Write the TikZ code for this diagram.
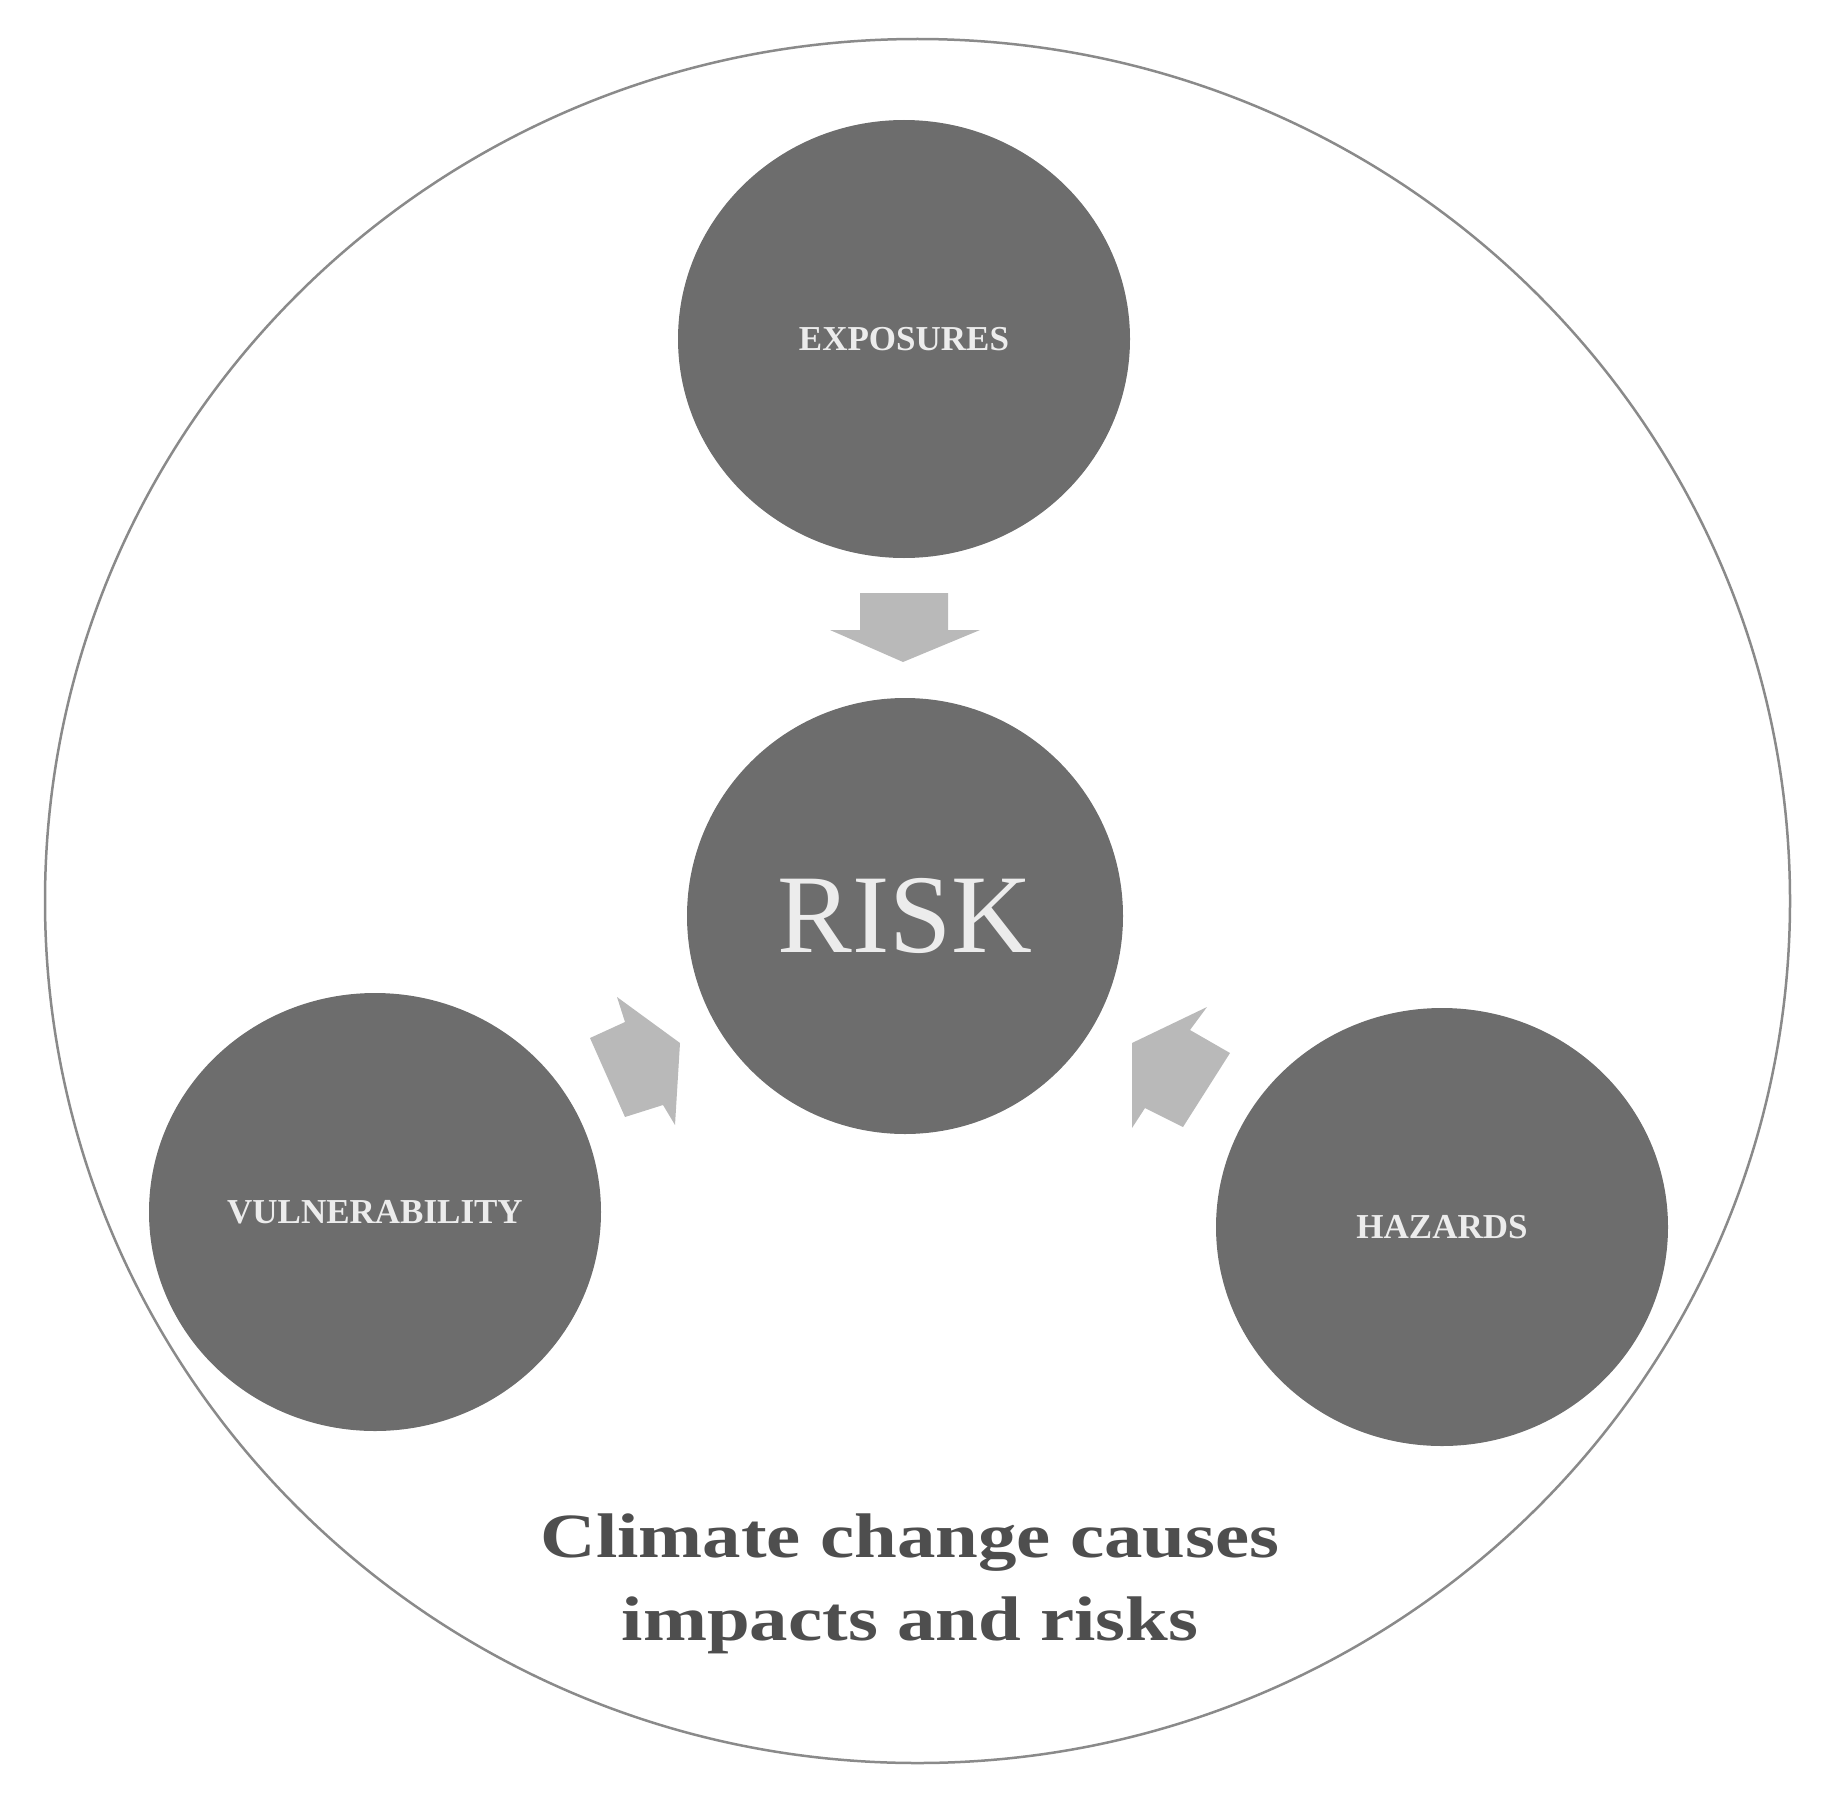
\documentclass[tikz,border=0pt]{standalone}
\usepackage{fontspec}
\setmainfont{Liberation Serif}
\newfontfamily\climatefont[FakeStretch=1.22]{Liberation Serif}
\usetikzlibrary{shapes.geometric}
\definecolor{bubblegray}{HTML}{6D6D6D}
\definecolor{arrowgray}{HTML}{B9B9B9}
\definecolor{framegray}{HTML}{8A8A8A}
\definecolor{labelwhite}{HTML}{ECECEC}
\definecolor{captiongray}{HTML}{4E4E4E}

\begin{document}
\begin{tikzpicture}[x=1pt, y=-1pt,
    bubble/.style={ellipse, fill=bubblegray, inner sep=0pt, text=labelwhite,
      minimum width=452pt, minimum height=438pt, font=\fontsize{35}{40}\selectfont\bfseries},
    blockarrow/.style={fill=arrowgray}]
  \useasboundingbox (0,0) rectangle (1843,1798);

  % Draw the outer circle
  \node[ellipse, draw=framegray, line width=2.5pt, minimum width=1745pt,
    minimum height=1724pt] (frame) at (917.5,901) {};

  % Draw the four circles
  \node[bubble, minimum width=436pt, minimum height=436pt,
    font=\fontsize{112}{120}\selectfont] (risk) at (905,916) {RISK};
  \node[bubble] (expo) at (904,339) {EXPOSURES};
  \node[bubble] (vuln) at (375,1212) {VULNERABILITY};
  \node[bubble] (haz) at (1442,1227) {HAZARDS};

  % Draw the block arrows towards the risk
  \fill[blockarrow] (860,593) -- (948,593) -- (948,630) -- (980,630)
    -- (903,662) -- (830,630) -- (860,630) -- cycle;
  \fill[blockarrow] (617,997) -- (625,1022) -- (590,1038) -- (625,1117)
    -- (663,1105) -- (675,1125) -- (680,1043) -- cycle;
  \fill[blockarrow] (1207,1007) -- (1190,1030) -- (1230,1053) -- (1183,1127)
    -- (1145,1108) -- (1132,1128) -- (1132,1043) -- cycle;

  % Label the caption
  \node[align=center, text=captiongray,
    font=\climatefont\fontsize{63}{83}\selectfont\bfseries]
    (caption) at (910,1584) {Climate change causes\\impacts and risks};
\end{tikzpicture}
\end{document}
